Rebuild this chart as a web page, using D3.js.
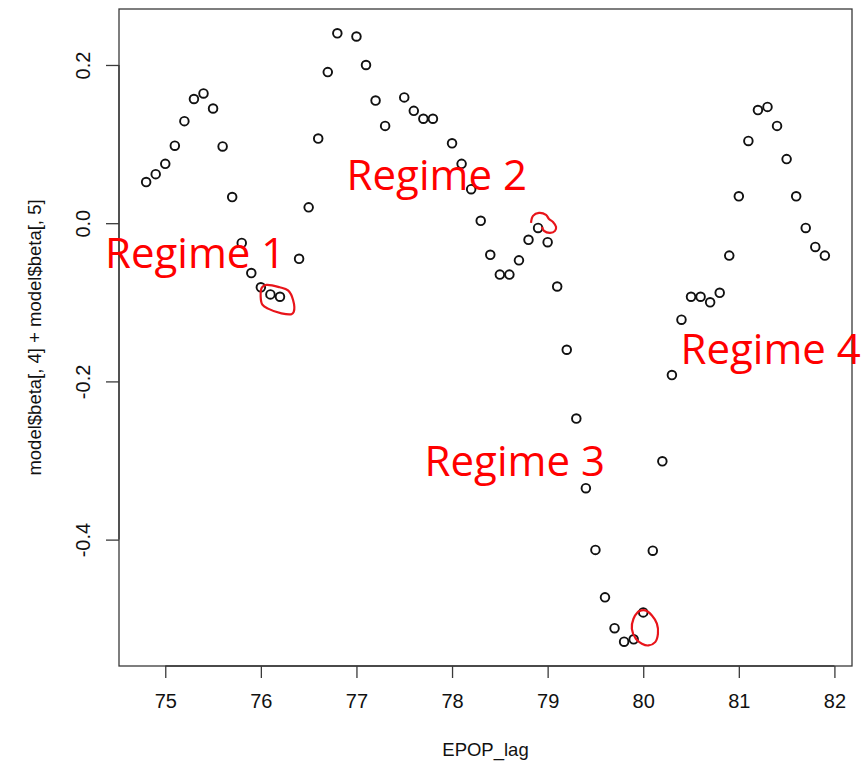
<!DOCTYPE html>
<html>
<head>
<meta charset="utf-8">
<script src="https://cdn.jsdelivr.net/npm/d3@7"></script>
<style>
  html, body { margin: 0; padding: 0; background: #fff; }
  svg { display: block; }
</style>
</head>
<body>
<svg id="chart" width="861" height="770"></svg>
<script>
// ---- data ----
const epopLag = [74.8, 74.9, 75.0, 75.1, 75.2, 75.3, 75.4, 75.5, 75.6, 75.7, 75.8, 75.9, 76.0, 76.1, 76.2,
  76.4, 76.5, 76.6, 76.7, 76.8, 77.0, 77.1, 77.2, 77.3, 77.5, 77.6, 77.7, 77.8,
  78.0, 78.1, 78.2, 78.3, 78.4, 78.5, 78.6, 78.7, 78.8, 78.9,
  79.0, 79.1, 79.2, 79.3, 79.4, 79.5, 79.6, 79.7, 79.8, 79.9,
  80.0, 80.1, 80.2, 80.3, 80.4, 80.5, 80.6, 80.7, 80.8, 80.9,
  81.0, 81.1, 81.2, 81.3, 81.4, 81.5, 81.6, 81.7, 81.8, 81.9];
const betaSum = [0.052, 0.062, 0.075, 0.098, 0.129, 0.157, 0.164, 0.145, 0.097, 0.033, -0.025, -0.063, -0.081, -0.090, -0.093,
  -0.045, 0.020, 0.107, 0.191, 0.240, 0.236, 0.200, 0.155, 0.123, 0.159, 0.142, 0.132, 0.132,
  0.101, 0.075, 0.043, 0.003, -0.040, -0.065, -0.065, -0.047, -0.021, -0.006,
  -0.024, -0.080, -0.160, -0.247, -0.335, -0.413, -0.473, -0.512, -0.529, -0.526,
  -0.492, -0.414, -0.301, -0.192, -0.122, -0.093, -0.093, -0.100, -0.088, -0.041,
  0.034, 0.104, 0.143, 0.147, 0.123, 0.081, 0.034, -0.006, -0.030, -0.041];

const xTicks = [75, 76, 77, 78, 79, 80, 81, 82];
const xTickLabels = ["75", "76", "77", "78", "79", "80", "81", "82"];
const yTicks = [-0.4, -0.2, 0.0, 0.2];
const yTickLabels = ["-0.4", "-0.2", "0.0", "0.2"];

const xTitle = "EPOP_lag";
const yTitle = "model$beta[, 4] + model$beta[, 5]";

const regimeLabels = ["Regime 1", "Regime 2", "Regime 3", "Regime 4"];
const regimeX = [74.37, 76.897, 77.713, 80.39];   // left edge of label, data units
const regimeY = [-0.057, 0.042, -0.320, -0.178];  // baseline, data units

// hand-drawn red marks, in data units
const loop1 = [[76.012,-0.081],[76.058,-0.078],[76.197,-0.081],[76.284,-0.085],[76.337,-0.097],[76.344,-0.112],
  [76.320,-0.115],[76.215,-0.114],[76.075,-0.108],[76.016,-0.103],[75.998,-0.093]];
const loop2 = [[78.826,0.0004],[78.847,0.0092],[78.910,0.0130],[78.983,0.0105],[79.014,0.0054],[79.056,0.0016],
  [79.088,-0.0047],[79.077,-0.0097],[79.025,-0.0123],[78.962,-0.0097],[78.941,-0.0047]];
const loop3 = [[79.958,-0.4904],[80.021,-0.4895],[80.091,-0.4958],[80.143,-0.5063],[80.154,-0.5190],[80.125,-0.5296],
  [80.055,-0.5338],[79.986,-0.5316],[79.923,-0.5253],[79.881,-0.5127],[79.898,-0.5000],[79.944,-0.4916]];

// ---- layout ----
const plot = { left: 119, top: 9, right: 852, bottom: 666 };
const svg = d3.select("#chart");

function rPad(ext) { const d = (ext[1] - ext[0]) * 0.04; return [ext[0] - d, ext[1] + d]; }

const x = d3.scaleLinear().domain(rPad(d3.extent(epopLag))).range([plot.left, plot.right]);
const y = d3.scaleLinear().domain(rPad(d3.extent(betaSum))).range([plot.bottom, plot.top]);

const axisColor = "#3a3a3a";
const tickFont = "'Liberation Sans', Arial, sans-serif";

// box
svg.append("rect")
  .attr("x", plot.left).attr("y", plot.top)
  .attr("width", plot.right - plot.left).attr("height", plot.bottom - plot.top)
  .attr("fill", "none").attr("stroke", axisColor).attr("stroke-width", 1.3);

// x axis
const xAxis = d3.axisBottom(x).tickValues(xTicks)
  .tickFormat((d, i) => xTickLabels[i]).tickSize(12).tickPadding(16).tickSizeOuter(0);
const gx = svg.append("g").attr("transform", `translate(0,${plot.bottom})`).call(xAxis);
gx.select(".domain").attr("stroke", axisColor).attr("stroke-width", 1.3)
  .attr("d", `M${x(xTicks[0])},0H${x(xTicks[xTicks.length - 1])}`);
gx.selectAll(".tick line").attr("stroke", axisColor).attr("stroke-width", 1.3);
gx.selectAll(".tick text").attr("fill", "#111").style("font-family", tickFont).style("font-size", "20px");

// y axis
const yAxis = d3.axisLeft(y).tickValues(yTicks)
  .tickFormat((d, i) => yTickLabels[i]).tickSize(13).tickSizeOuter(0);
const gy = svg.append("g").attr("transform", `translate(${plot.left},0)`).call(yAxis);
gy.select(".domain").attr("stroke", axisColor).attr("stroke-width", 1.3)
  .attr("d", `M0,${y(yTicks[0])}V${y(yTicks[yTicks.length - 1])}`);
gy.selectAll(".tick line").attr("stroke", axisColor).attr("stroke-width", 1.3);
gy.selectAll(".tick text")
  .attr("fill", "#111").style("font-family", tickFont).style("font-size", "20px")
  .attr("text-anchor", "middle").attr("dy", null)
  .attr("transform", "translate(-36,0) rotate(-90)")
  .attr("x", 0).attr("y", 0).attr("dominant-baseline", "central");

// axis titles
svg.append("text")
  .attr("x", (plot.left + plot.right) / 2).attr("y", 756)
  .attr("text-anchor", "middle").attr("fill", "#111")
  .style("font-family", tickFont).style("font-size", "18.5px")
  .text(xTitle);
svg.append("text")
  .attr("transform", `translate(41,${(plot.top + plot.bottom) / 2}) rotate(-90)`)
  .attr("text-anchor", "middle").attr("fill", "#111")
  .style("font-family", tickFont).style("font-size", "18.5px")
  .text(yTitle);

// points
svg.append("g").selectAll("circle")
  .data(epopLag.map((v, i) => [v, betaSum[i]]))
  .join("circle")
  .attr("cx", d => x(d[0])).attr("cy", d => y(d[1]))
  .attr("r", 4.3)
  .attr("fill", "none").attr("stroke", "#111").attr("stroke-width", 1.9);

// red hand-drawn marks
const closedLine = d3.line().x(d => x(d[0])).y(d => y(d[1])).curve(d3.curveCatmullRomClosed);
const openLine = d3.line().x(d => x(d[0])).y(d => y(d[1])).curve(d3.curveCatmullRom);
svg.append("path").attr("d", closedLine(loop1)).attr("fill", "none").attr("stroke", "#e8141a").attr("stroke-width", 2.2);
svg.append("path").attr("d", openLine(loop2)).attr("fill", "none").attr("stroke", "#e8141a").attr("stroke-width", 2.2);
svg.append("path").attr("d", closedLine(loop3)).attr("fill", "none").attr("stroke", "#e8141a").attr("stroke-width", 2.2);

// regime labels
svg.append("g").selectAll("text")
  .data(regimeLabels)
  .join("text")
  .attr("x", (d, i) => x(regimeX[i])).attr("y", (d, i) => y(regimeY[i]))
  .attr("fill", "#ff0000")
  .style("font-family", "'Open Sans', 'Noto Sans', sans-serif")
  .style("font-size", "42px")
  .text(d => d);
</script>
</body>
</html>
